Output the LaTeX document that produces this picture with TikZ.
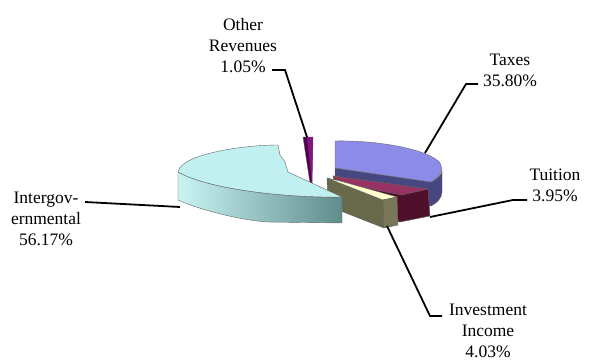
\documentclass[tikz,border=0pt]{standalone}
\usepackage{fontspec}
\setmainfont{Liberation Serif}
\usetikzlibrary{positioning}
\definecolor{cyant}{RGB}{192,240,240}
\definecolor{cyanl}{RGB}{200,244,244}
\definecolor{cyand}{RGB}{96,140,140}
\definecolor{taxt}{RGB}{140,140,232}
\definecolor{taxs}{RGB}{70,70,128}
\definecolor{tuit}{RGB}{150,50,100}
\definecolor{tuis}{RGB}{80,16,44}
\definecolor{invs}{RGB}{104,104,74}
\definecolor{invf}{RGB}{120,120,88}
\definecolor{invt}{RGB}{255,255,204}
\definecolor{oths}{RGB}{80,0,80}
\definecolor{otht}{RGB}{128,24,128}
\tikzset{rim/.style={draw=black!60,line width=.4pt},
 ldr/.style={line width=1.8pt},
 lbl/.style={align=center,inner sep=0pt,font=\fontsize{17.5}{21}\selectfont}}
\begin{document}
\begin{tikzpicture}[x=1pt,y=-1pt]
\useasboundingbox (0,0) rectangle (590,362);
\fill[taxs,rim](335,168)--(431,182)..controls(438,179)and(442,174)..(442,170)--(442,192)..controls(442,198)and(437,203)..(431,206)--(335,192)--cycle;
\fill[taxt,rim](335,141)..controls(380,140)and(430,150)..(440,163)..controls(444,168)and(440,177)..(431,182)--(335,168)--cycle;
\fill[tuis,rim](333,176)--(428,189)--(430,216)--(400,222)--(340,205)--cycle;
\fill[tuit,rim](333,176)--(428,189)--(402,195)--(340,183)--cycle;
\fill[invs,rim](327,178)--(383,200)--(384,228)--(328,206)--cycle;
\fill[invt,rim](327,178)--(340,181)--(397,197)--(383,200)--cycle;
\fill[invf,rim](383,200)--(397,197)--(398,225)--(384,228)--cycle;
\fill[oths,rim](303,137)--(313,137)--(312,184)--(310,183)--cycle;
\fill[otht](307,137)--(313,137)--(312,184)--cycle;
\shade[left color=cyanl,right color=cyand,rim](178,172)--(178,200)..controls(200,210)and(240,220)..(267,222)--(342,223)--(342,197)
 ..controls(290,198)and(210,190)..(178,172)--cycle;
\fill[cyant,rim](178,172)..controls(180,155)and(240,145)..(278,145)--(280,155)--(285,162)--(288,172)--(342,197)
 ..controls(290,198)and(210,190)..(178,172)--cycle;
\coordinate(othA)at(272,70);\coordinate(othB)at(285,70);\coordinate(othP)at(307,137);
\coordinate(taxA)at(478,84);\coordinate(taxB)at(466,84);\coordinate(taxP)at(425,153);
\coordinate(tuiA)at(527,200);\coordinate(tuiB)at(513,200);\coordinate(tuiP)at(430,217);
\coordinate(igvA)at(85,202);\coordinate(igvP)at(180,207);
\coordinate(invA)at(442,316);\coordinate(invB)at(430,316);\coordinate(invP)at(387,226);
\draw[ldr](othA)--(othB)--(othP);
\draw[ldr](taxA)--(taxB)--(taxP);
\draw[ldr](tuiA)--(tuiB)--(tuiP);
\draw[ldr](igvA)--(igvP);
\draw[ldr](invA)--(invB)--(invP);
\node[lbl](othL)at(243,46){Other\\Revenues\\1.05\%};
\node[lbl](taxL)at(510,70){Taxes\\35.80\%};
\node[lbl](tuiL)at(555,185){Tuition\\3.95\%};
\node[lbl](igvL)at(46,219){Intergov-\\ernmental\\56.17\%};
\node[lbl](invL)at(488,331){Investment\\Income\\4.03\%};
\end{tikzpicture}
\end{document}
